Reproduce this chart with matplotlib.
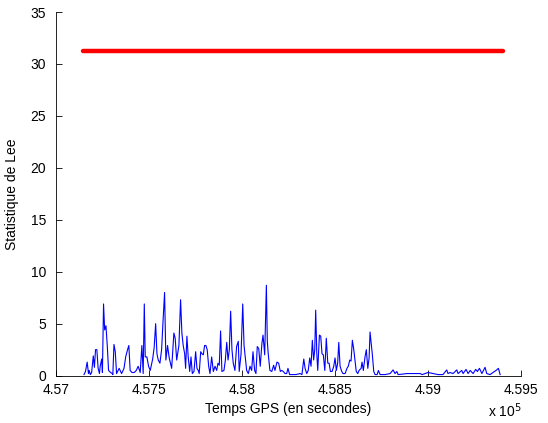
import matplotlib
matplotlib.use('Agg')
import matplotlib.pyplot as plt

plt.rcParams['font.family'] = ['Liberation Sans', 'DejaVu Sans']

# Temps GPS (s) et statistique de Lee
temps = [457151, 457159, 457168, 457175, 457179, 457185, 457192, 457201, 457207, 457213,
         457220, 457227, 457234, 457238, 457246, 457250, 457256, 457262, 457269, 457276,
         457283, 457294, 457303, 457306, 457312, 457319, 457326, 457340, 457353, 457366,
         457375, 457385, 457392, 457399, 457409, 457421, 457432, 457442, 457453, 457462,
         457469, 457475, 457480, 457489, 457498, 457507, 457520, 457528, 457536, 457543,
         457550, 457559, 457568, 457575, 457584, 457591, 457600, 457609, 457622, 457634,
         457641, 457649, 457661, 457670, 457677, 457684, 457692, 457697, 457704, 457711,
         457719, 457726, 457733, 457742, 457751, 457758, 457765, 457770, 457778, 457785,
         457792, 457799, 457806, 457813, 457821, 457828, 457837, 457846, 457855, 457864,
         457871, 457878, 457885, 457892, 457903, 457910, 457918, 457925, 457932, 457939,
         457946, 457953, 457962, 457971, 457980, 457985, 457995, 458004, 458011, 458018,
         458025, 458034, 458043, 458052, 458059, 458068, 458075, 458082, 458090, 458098,
         458107, 458113, 458122, 458131, 458136, 458141, 458150, 458160, 458170, 458177,
         458188, 458197, 458206, 458213, 458222, 458231, 458240, 458247, 458256, 458269,
         458290, 458312, 458322, 458332, 458339, 458348, 458356, 458364, 458371, 458378,
         458385, 458391, 458396, 458402, 458407, 458416, 458423, 458430, 458437, 458445,
         458453, 458461, 458468, 458475, 458484, 458493, 458500, 458507, 458514, 458520,
         458527, 458536, 458543, 458554, 458564, 458571, 458579, 458586, 458593, 458600,
         458607, 458614, 458622, 458629, 458640, 458645, 458652, 458661, 458668, 458676,
         458683, 458688, 458693, 458700, 458708, 458715, 458726, 458733, 458742, 458769,
         458796, 458812, 458822, 458832, 458839, 458865, 458887, 458919, 458957, 458968,
         459000, 459027, 459054, 459080, 459100, 459107, 459118, 459134, 459154, 459161,
         459181, 459188, 459204, 459215, 459226, 459242, 459256, 459265, 459276, 459289,
         459306, 459315, 459333, 459365, 459378, 459387]
lee = [0.1, 0.4, 1.3, 0.2, 0.5, 0.1, 0.3, 1.9, 0.8, 2.5,
       2.5, 0.7, 0.2, 0.9, 1.6, 0.3, 6.9, 4.4, 4.8, 2.9,
       0.5, 0.3, 0.2, 0.1, 3.0, 2.3, 0.2, 0.7, 0.2, 0.7,
       1.8, 2.5, 2.9, 0.5, 0.3, 0.3, 0.5, 0.9, 0.3, 2.9,
       0.2, 6.9, 1.8, 1.8, 0.9, 0.5, 1.6, 2.7, 5.0, 2.1,
       1.5, 1.2, 2.5, 5.0, 8.0, 1.5, 2.9, 1.7, 0.7, 4.1,
       3.6, 1.5, 2.9, 7.3, 4.1, 2.9, 2.1, 0.7, 3.8, 1.8,
       0.4, 1.8, 0.2, 0.4, 2.3, 0.7, 0.5, 0.2, 2.3, 2.1,
       2.0, 2.9, 2.9, 2.5, 0.9, 0.2, 1.8, 0.4, 0.9, 0.5,
       1.2, 1.0, 4.3, 0.4, 0.5, 1.4, 3.2, 1.5, 2.5, 6.2,
       2.5, 1.2, 0.5, 2.8, 3.3, 0.4, 2.1, 6.9, 2.9, 1.7,
       0.5, 0.2, 0.9, 0.5, 2.3, 0.5, 0.2, 2.8, 2.6, 0.9,
       3.1, 3.9, 2.0, 8.7, 3.3, 2.1, 0.5, 0.4, 1.0, 0.5,
       1.3, 1.2, 0.4, 0.5, 0.4, 0.2, 0.2, 0.7, 0.1, 0.1,
       0.1, 0.2, 0.1, 1.6, 0.7, 0.2, 0.5, 1.7, 0.9, 3.4,
       1.5, 2.5, 6.3, 2.1, 0.5, 3.9, 3.8, 2.1, 2.0, 0.5,
       3.6, 1.2, 1.2, 0.4, 0.4, 0.9, 1.7, 0.5, 1.2, 3.2,
       0.9, 0.4, 0.2, 0.2, 0.7, 0.9, 1.5, 1.4, 3.4, 2.6,
       1.5, 0.4, 0.2, 0.5, 0.7, 1.3, 0.5, 1.8, 2.5, 0.7,
       1.7, 4.2, 3.3, 2.1, 0.4, 0.1, 0.1, 0.5, 0.1, 0.1,
       0.2, 0.55, 0.2, 0.4, 0.1, 0.15, 0.2, 0.2, 0.2, 0.1,
       0.3, 0.2, 0.1, 0.1, 0.55, 0.2, 0.3, 0.2, 0.55, 0.2,
       0.5, 0.2, 0.6, 0.2, 0.5, 0.2, 0.6, 0.4, 0.7, 0.2,
       0.8, 0.2, 0.1, 0.5, 0.7, 0.1]

seuil_temps = [457143, 459403]
seuil = [31.28, 31.28]

fig = plt.figure(figsize=(5.48, 4.23), dpi=100)
ax = fig.add_axes([0.102, 0.112, 0.849, 0.8596])

ax.plot(temps, lee, color='#0000ff', linewidth=0.8)
ax.plot(seuil_temps, seuil, color='#ff0000', linewidth=3.2, solid_capstyle='round')

ax.set_xlim(457000, 459500)
ax.set_ylim(0, 35)
ax.set_xticks([457000, 457500, 458000, 458500, 459000, 459500])
ax.set_xticklabels(['4.57', '4.575', '4.58', '4.585', '4.59', '4.595'])
ax.set_yticks([0, 5, 10, 15, 20, 25, 30, 35])

ax.spines['top'].set_visible(False)
ax.spines['right'].set_visible(False)
for s in ['left', 'bottom']:
    ax.spines[s].set_linewidth(0.6)
ax.tick_params(direction='in', length=4, width=0.6, labelsize=10)
ax.tick_params(axis='y', pad=7)
ax.tick_params(axis='x', pad=5)

ax.set_xlabel('Temps GPS (en secondes)', fontsize=10, labelpad=4)
ax.set_ylabel('Statistique de Lee', fontsize=10, labelpad=8)

fig.text(0.891, 0.008, r'x 10$^{5}$', fontsize=10, ha='left', va='bottom')

fig.savefig('out.png', dpi=100)
